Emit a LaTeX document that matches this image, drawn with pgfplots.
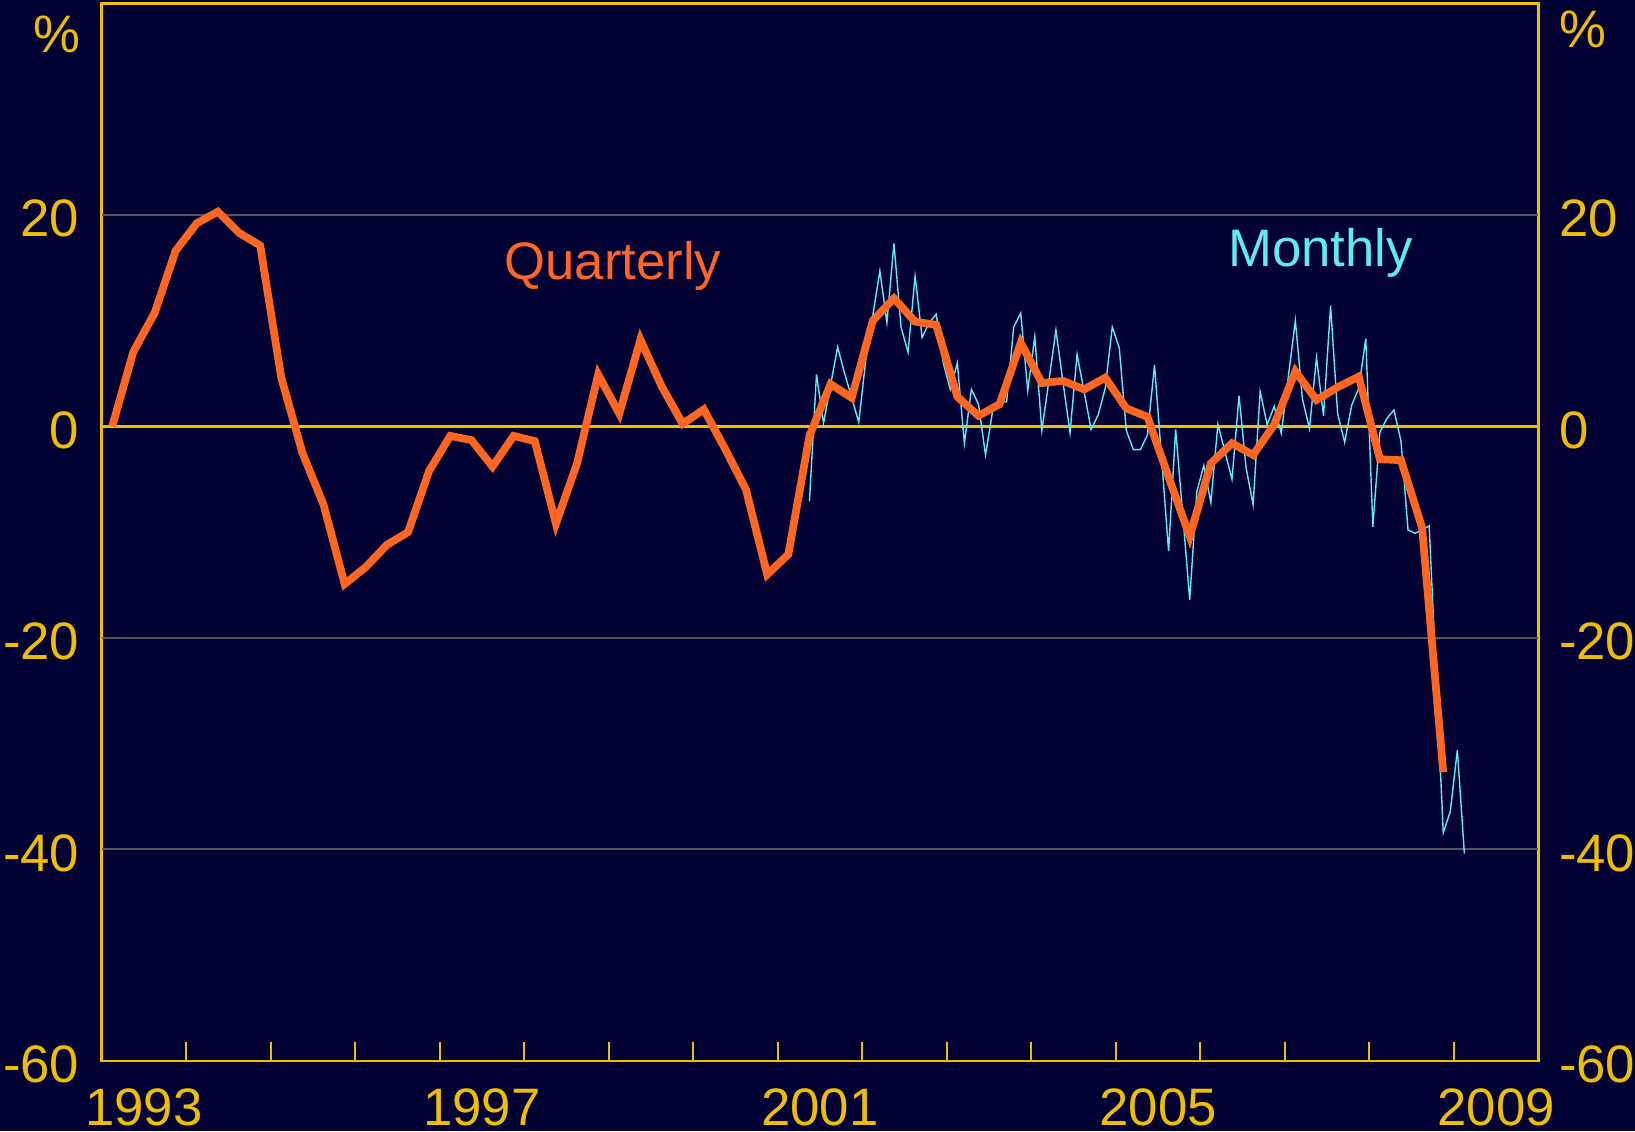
\documentclass[border=0pt]{standalone}
\usepackage{fontspec}
\setmainfont{Liberation Sans}
\usepackage{pgfplots}
\pgfplotsset{compat=1.18}
\definecolor{bgnavy}{RGB}{0,0,50}
\definecolor{axyellow}{RGB}{240,190,0}
\definecolor{qorange}{RGB}{255,102,34}
\definecolor{mcyan}{RGB}{95,235,245}
\definecolor{gridgrey}{RGB}{85,85,92}
\newcommand{\lblfont}{\fontsize{15}{18}\selectfont}
\begin{document}
\begin{tikzpicture}
\fill[bgnavy] (0,0) rectangle (16.35cm,11.31cm);
\useasboundingbox (0,0) rectangle (16.35cm,11.31cm);
\begin{axis}[
  at={(1.017cm,0.70cm)}, anchor=south west,
  width=14.366cm, height=10.577cm, scale only axis,
  xmin=1993, xmax=2010, ymin=-60, ymax=40,
  axis line style={axyellow, line width=0.8pt},
  xtick={1994,1995,...,2009}, xticklabels={},
  xtick pos=left, tick align=inside,
  xtick style={axyellow, line width=0.6pt},
  major tick length=0.19cm,
  extra x ticks={1993.5,1997.5,2001.5,2005.5,2009.5},
  extra x tick labels={1993,1997,2001,2005,2009},
  extra x tick style={major tick length=0pt, xtick style={draw=none}},
  xticklabel style={anchor=base, yshift=-0.64cm, font=\lblfont, text=axyellow},
  ytick={-60,-40,-20,0,20},
  yticklabels={{-60},{-40},{-20},{0},{20}},
  ytick pos=left,
  ytick style={draw=none},
  yticklabel style={anchor=east, inner sep=0pt, xshift=-0.217cm, yshift=-0.037cm, font=\lblfont, text=axyellow},
  clip=false,
]
\draw[gridgrey, line width=0.57pt] (axis cs:1993,20) -- (axis cs:2010,20);
\draw[gridgrey, line width=0.57pt] (axis cs:1993,-20) -- (axis cs:2010,-20);
\draw[gridgrey, line width=0.57pt] (axis cs:1993,-40) -- (axis cs:2010,-40);
\draw[axyellow, line width=0.65pt] (axis cs:1993,0) -- (axis cs:2010,0);
% Monthly
\addplot[mcyan, line width=0.4pt, mark=none] coordinates {
(2001.375,-7.1)(2001.4583,4.9)(2001.5417,0.3)(2001.625,3.9)(2001.7083,7.5)(2001.7917,5.0)(2001.875,2.7)(2001.9583,0.4)
(2002.0417,6.3)(2002.125,10.5)(2002.2083,14.7)(2002.2917,9.8)(2002.375,17.3)(2002.4583,9.4)(2002.5417,7.0)(2002.625,14.2)(2002.7083,8.4)(2002.7917,9.8)(2002.875,10.6)(2002.9583,6.0)
(2003.0417,3.5)(2003.125,6.0)(2003.2083,-1.6)(2003.2917,3.5)(2003.375,2.1)(2003.4583,-2.7)(2003.5417,1.4)(2003.625,2.3)(2003.7083,2.3)(2003.7917,9.4)(2003.875,10.7)(2003.9583,3.4)
(2004.0417,8.5)(2004.125,-0.4)(2004.2083,4.3)(2004.2917,9.1)(2004.375,4.2)(2004.4583,-0.6)(2004.5417,6.8)(2004.625,3.3)(2004.7083,-0.3)(2004.7917,1.1)(2004.875,3.6)(2004.9583,9.4)
(2005.0417,7.4)(2005.125,-0.4)(2005.2083,-2.2)(2005.2917,-2.2)(2005.375,-0.8)(2005.4583,5.8)(2005.5417,-3.0)(2005.625,-11.8)(2005.7083,-0.3)(2005.7917,-8.3)(2005.875,-16.4)(2005.9583,-6.2)
(2006.0417,-3.7)(2006.125,-7.2)(2006.2083,0.2)(2006.2917,-2.4)(2006.375,-5.0)(2006.4583,2.9)(2006.5417,-3.9)(2006.625,-7.4)(2006.7083,3.3)(2006.7917,0.15)(2006.875,1.9)(2006.9583,-0.65)
(2007.0417,4.7)(2007.125,10.0)(2007.2083,2.6)(2007.2917,-0.2)(2007.375,6.5)(2007.4583,1.0)(2007.5417,11.4)(2007.625,1.2)(2007.7083,-1.5)(2007.7917,2.0)(2007.875,3.6)(2007.9583,8.3)
(2008.0417,-9.5)(2008.125,-0.55)(2008.2083,0.75)(2008.2917,1.55)(2008.375,-1.4)(2008.4583,-9.8)(2008.5417,-10.1)(2008.625,-9.8)(2008.7083,-9.4)(2008.7917,-23.8)(2008.875,-38.4)(2008.9583,-36.4)
(2009.0417,-30.6)(2009.125,-40.4)
};
% Quarterly
\addplot[qorange, line width=2.2pt, mark=none] coordinates {
(1993.125,0)(1993.375,7.07)(1993.625,10.7)(1993.875,16.6)
(1994.125,19.2)(1994.375,20.3)(1994.625,18.3)(1994.875,17.1)
(1995.125,4.6)(1995.375,-2.5)(1995.625,-7.4)(1995.875,-14.9)
(1996.125,-13.3)(1996.375,-11.2)(1996.625,-10.0)(1996.875,-4.2)
(1997.125,-0.9)(1997.375,-1.3)(1997.625,-3.8)(1997.875,-0.9)
(1998.125,-1.4)(1998.375,-9.2)(1998.625,-3.5)(1998.875,4.9)
(1999.125,1.2)(1999.375,8.2)(1999.625,3.8)(1999.875,0.25)
(2000.125,1.6)(2000.375,-2.1)(2000.625,-6.0)(2000.875,-14.0)
(2001.125,-12.1)(2001.375,-0.9)(2001.625,4.0)(2001.875,2.7)
(2002.125,10.0)(2002.375,12.1)(2002.625,9.9)(2002.875,9.6)
(2003.125,2.8)(2003.375,1.0)(2003.625,2.1)(2003.875,7.9)
(2004.125,4.1)(2004.375,4.3)(2004.625,3.5)(2004.875,4.6)
(2005.125,1.7)(2005.375,0.9)(2005.625,-4.8)(2005.875,-10.4)
(2006.125,-3.5)(2006.375,-1.6)(2006.625,-2.7)(2006.875,0.17)
(2007.125,5.2)(2007.375,2.5)(2007.625,3.7)(2007.875,4.7)
(2008.125,-3.1)(2008.375,-3.2)(2008.625,-9.6)(2008.875,-32.7)
};
\end{axis}
\begin{axis}[
  at={(1.017cm,0.70cm)}, anchor=south west,
  width=14.366cm, height=10.577cm, scale only axis,
  xmin=1993, xmax=2010, ymin=-60, ymax=40,
  hide x axis, axis y line*=right,
  y axis line style={draw=none},
  ytick={-60,-40,-20,0,20},
  yticklabels={{-60},{-40},{-20},{0},{20}},
  ytick style={draw=none},
  yticklabel style={anchor=west, inner sep=0pt, xshift=0.2cm, yshift=-0.037cm, font=\lblfont, text=axyellow},
]
\end{axis}
\node[anchor=east, inner sep=0pt, text=axyellow, font=\lblfont] at (0.81cm,10.97cm) {\%};
\node[anchor=west, inner sep=0pt, text=axyellow, font=\lblfont] at (15.583cm,11.02cm) {\%};
\node[anchor=base, inner sep=0pt, text=qorange, font=\lblfont] at (6.128cm,8.51cm) {Quarterly};
\node[anchor=base, inner sep=0pt, text=mcyan, font=\lblfont] at (13.205cm,8.643cm) {Monthly};
\end{tikzpicture}
\end{document}
